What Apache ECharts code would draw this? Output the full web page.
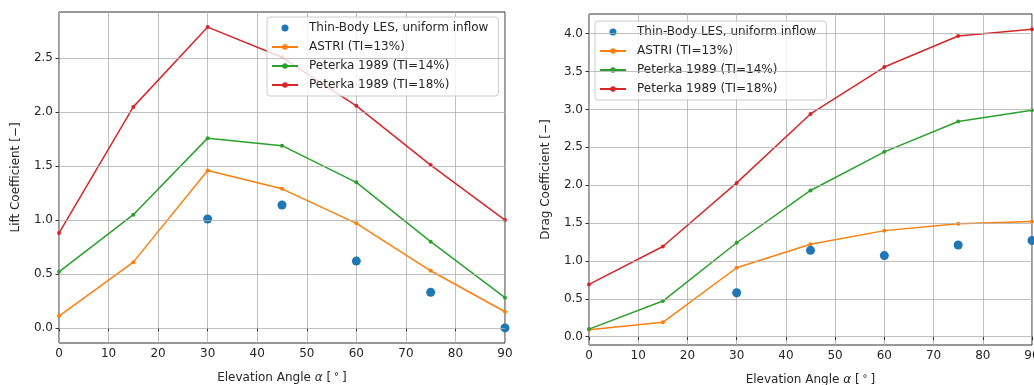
<!DOCTYPE html>
<html>
<head>
<meta charset="utf-8">
<script src="https://cdn.jsdelivr.net/npm/echarts@6/dist/echarts.min.js"></script>
<style>
  html, body { margin: 0; padding: 0; background: #fff; }
  #chart { width: 1034px; height: 385px; }
</style>
</head>
<body>
<div id="chart"></div>
<script>
// Elevation angles (degrees)
const angles = [0, 15, 30, 45, 60, 75, 90];
const lesAngles = [30, 45, 60, 75, 90];

// Lift coefficient
const liftLES = [1.01, 1.14, 0.62, 0.33, 0.0];
const liftASTRI = [0.11, 0.61, 1.46, 1.29, 0.97, 0.53, 0.15];
const liftPeterka14 = [0.52, 1.05, 1.76, 1.69, 1.35, 0.80, 0.28];
const liftPeterka18 = [0.88, 2.05, 2.79, 2.51, 2.06, 1.51, 1.00];

// Drag coefficient
const dragLES = [0.58, 1.14, 1.07, 1.21, 1.27];
const dragASTRI = [0.09, 0.19, 0.91, 1.22, 1.40, 1.49, 1.52];
const dragPeterka14 = [0.10, 0.47, 1.24, 1.93, 2.44, 2.84, 2.99];
const dragPeterka18 = [0.69, 1.19, 2.03, 2.94, 3.56, 3.97, 4.06];

// Tick values
const liftTicks = [0, 0.5, 1.0, 1.5, 2.0, 2.5];
const dragTicks = [0, 0.5, 1.0, 1.5, 2.0, 2.5, 3.0, 3.5, 4.0];

const names = [
  'Thin-Body LES, uniform inflow',
  'ASTRI (TI=13%)',
  'Peterka 1989 (TI=14%)',
  'Peterka 1989 (TI=18%)'
];
const colors = ['#1f77b4', '#ff7f0e', '#2ca02c', '#d62728'];

const FONT = 'DejaVu Sans';
const TEXT = '#262626';
const GRID = '#b0b0b0';
const FS = 12;

const pairs = (xs, ys) => xs.map((x, i) => [x, ys[i]]);

function xAxisFor(gridIndex) {
  return {
    type: 'value', gridIndex, min: 0, max: 90, interval: 10,
    name: 'Elevation Angle {a|α} [{d|°}]',
    nameLocation: 'middle', nameGap: 29,
    nameTextStyle: {
      fontFamily: FONT, fontSize: FS, color: TEXT,
      rich: {
        a: { fontFamily: FONT, fontSize: FS, fontStyle: 'italic', color: TEXT },
        d: { fontFamily: FONT, fontSize: 10, color: TEXT, verticalAlign: 'top', padding: [0, 3, 0, 3] }
      }
    },
    axisLine: { show: false },
    axisTick: { show: true, inside: false, length: 3.5, lineStyle: { color: '#333', width: 1 } },
    axisLabel: { fontFamily: FONT, fontSize: FS, color: TEXT, margin: 5 },
    splitLine: { show: true, lineStyle: { color: GRID, width: 0.8 } }
  };
}

function yAxisFor(gridIndex, name, min, max, ticks) {
  return {
    type: 'value', gridIndex, min, max,
    name, nameLocation: 'middle', nameGap: 37,
    nameTextStyle: { fontFamily: FONT, fontSize: FS, color: TEXT },
    axisLine: { show: false },
    axisTick: { show: true, inside: false, length: 3.5, customValues: ticks,
                lineStyle: { color: '#333', width: 1 } },
    axisLabel: { fontFamily: FONT, fontSize: FS, color: TEXT, margin: 6,
                 customValues: ticks, formatter: v => v.toFixed(1) },
    splitLine: { show: false }
  };
}

// Horizontal grid lines placed at the tick values
function hGrid(xi, yi, ticks) {
  return {
    type: 'line', xAxisIndex: xi, yAxisIndex: yi, data: [], z: 1, silent: true,
    markLine: {
      silent: true, symbol: ['none', 'none'], animation: false,
      label: { show: false },
      lineStyle: { type: 'solid', color: GRID, width: 0.8 },
      data: ticks.map(v => ({ yAxis: v }))
    }
  };
}

function lineSeries(name, color, xi, yi, data) {
  return {
    name, type: 'line', xAxisIndex: xi, yAxisIndex: yi, data, z: 3,
    color, symbol: 'circle', symbolSize: 4, showSymbol: true,
    lineStyle: { color, width: 1.5 }, itemStyle: { color, opacity: 1 }
  };
}

function lesSeries(xi, yi, data) {
  return {
    name: names[0], type: 'scatter', xAxisIndex: xi, yAxisIndex: yi, data, z: 4,
    symbol: 'circle', symbolSize: 9, itemStyle: { color: colors[0], opacity: 1 }
  };
}

function legendAt(left, top) {
  return {
    left, top, orient: 'vertical',
    data: names,
    itemWidth: 26, itemHeight: 7, itemGap: 7,
    padding: [5, 10, 5, 4],
    backgroundColor: 'rgba(255,255,255,0.8)',
    borderColor: '#cccccc', borderWidth: 1, borderRadius: 3,
    textStyle: { fontFamily: FONT, fontSize: FS, color: TEXT, padding: [0, 0, 0, 6] },
    selectedMode: false
  };
}

const chart = echarts.init(document.getElementById('chart'), null, { renderer: 'canvas' });
chart.setOption({
  animation: false,
  backgroundColor: '#ffffff',
  grid: [
    { left: 59, right: 529, top: 12, bottom: 42, show: true, outerBoundsMode: 'none',
      borderColor: '#333', borderWidth: 1, backgroundColor: 'transparent' },
    { left: 589, right: 2, top: 14, bottom: 40, show: true, outerBoundsMode: 'none',
      borderColor: '#333', borderWidth: 1, backgroundColor: 'transparent' }
  ],
  legend: [legendAt(267, 17), legendAt(595, 21)],
  xAxis: [xAxisFor(0), xAxisFor(1)],
  yAxis: [
    yAxisFor(0, 'Lift Coefficient [−]', -0.14, 2.93, liftTicks),
    yAxisFor(1, 'Drag Coefficient [−]', -0.11, 4.26, dragTicks)
  ],
  series: [
    hGrid(0, 0, liftTicks),
    lesSeries(0, 0, pairs(lesAngles, liftLES)),
    lineSeries(names[1], colors[1], 0, 0, pairs(angles, liftASTRI)),
    lineSeries(names[2], colors[2], 0, 0, pairs(angles, liftPeterka14)),
    lineSeries(names[3], colors[3], 0, 0, pairs(angles, liftPeterka18)),
    hGrid(1, 1, dragTicks),
    lesSeries(1, 1, pairs(lesAngles, dragLES)),
    lineSeries(names[1], colors[1], 1, 1, pairs(angles, dragASTRI)),
    lineSeries(names[2], colors[2], 1, 1, pairs(angles, dragPeterka14)),
    lineSeries(names[3], colors[3], 1, 1, pairs(angles, dragPeterka18))
  ]
});
</script>
</body>
</html>
